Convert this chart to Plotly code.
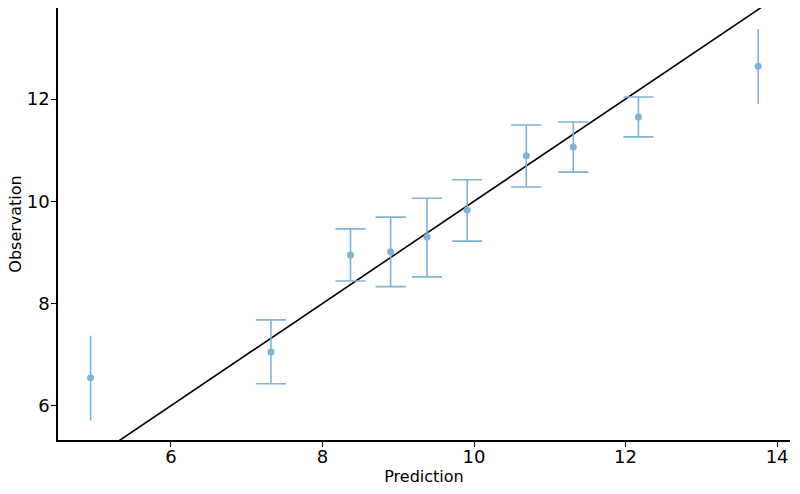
import plotly.graph_objects as go

prediction = [4.94, 7.32, 8.37, 8.90, 9.38, 9.91, 10.69, 11.31, 12.17, 13.75]
observation = [6.55, 7.05, 8.95, 9.01, 9.30, 9.83, 10.89, 11.06, 11.65, 12.64]
upper = [7.37, 7.68, 9.46, 9.69, 10.06, 10.42, 11.49, 11.55, 12.04, 13.37]
lower = [5.71, 6.43, 8.44, 8.33, 8.52, 9.22, 10.28, 10.57, 11.26, 11.90]
capped = [False, True, True, True, True, True, True, True, True, False]

color = "#80b2d6"
fig = go.Figure()

fig.add_trace(go.Scatter(x=[4.0, 15.0], y=[4.0, 15.0], mode="lines",
                         line=dict(color="black", width=1.6), showlegend=False))

for flag, w in [(True, 15), (False, 0)]:
    idx = [i for i, c in enumerate(capped) if c == flag]
    xs = [prediction[i] for i in idx]
    ys = [observation[i] for i in idx]
    ep = [upper[i] - observation[i] for i in idx]
    em = [observation[i] - lower[i] for i in idx]
    fig.add_trace(go.Scatter(
        x=xs, y=ys, mode="markers",
        marker=dict(color=color, size=7),
        error_y=dict(type="data", array=ep, arrayminus=em, symmetric=False,
                     color=color, thickness=1.6, width=w),
        showlegend=False))

axis_common = dict(showgrid=False, zeroline=False, showline=True, linecolor="black",
                   linewidth=1.5, ticks="outside", ticklen=5, tickcolor="black",
                   tickfont=dict(size=18, color="black"), mirror=False, automargin=False)

fig.update_layout(
    width=800, height=494,
    margin=dict(l=58, r=10, t=8, b=54),
    plot_bgcolor="white", paper_bgcolor="white",
    font=dict(family="DejaVu Sans", color="black"),
    xaxis=dict(range=[4.51, 14.17], tickvals=[6, 8, 10, 12, 14], ticklabelstandoff=-5,
               title=dict(text="Prediction", font=dict(size=16), standoff=1), **axis_common),
    yaxis=dict(range=[5.33, 13.78], tickvals=[6, 8, 10, 12], ticklabelstandoff=-2,
               title=dict(text="Observation", font=dict(size=16), standoff=1), **axis_common),
)

fig.write_html("out.html", config={"displayModeBar": False},
               post_script="document.body.style.margin='0';document.body.style.overflow='hidden';")
